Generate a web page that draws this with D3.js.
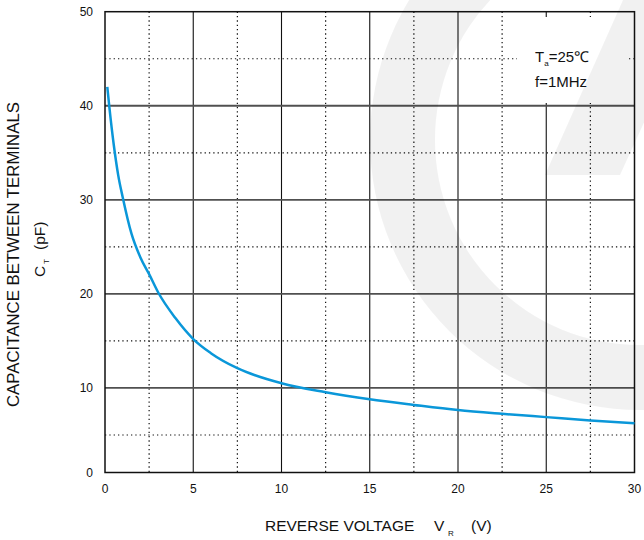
<!DOCTYPE html>
<html><head><meta charset="utf-8">
<script src="https://cdn.jsdelivr.net/npm/d3@7"></script>
<style>body{margin:0;background:#fff} svg{display:block} text{font-family:"Liberation Sans",Arial,sans-serif;fill:#111}</style>
</head><body><svg id="c" width="644" height="540"></svg>
<script>
const voltage = [0.13,0.25,0.5,0.75,1,1.5,2,2.5,3,4,5,6,7.5,10,12.5,15,17.5,20,22.5,25,27.5,30];
const capacitance = [42.0,39.8,35.8,32.6,30.3,26.4,23.9,22.1,20.2,17.4,15.2,13.7,12.1,10.5,9.55,8.8,8.2,7.65,7.25,6.9,6.55,6.25];
const xTicks = [0,5,10,15,20,25,30];
const yTicks = [0,10,20,30,40,50];
const xMinor = [2.5,7.5,12.5,17.5,22.5,27.5];
const yMinor = [5,15,25,35,45];

const svg = d3.select('#c');
const x = d3.scaleLinear().domain([0,30]).range([105,634.5]);
const y = d3.scaleLinear().domain([0,5,50]).range([472.5,435,11.7]);
const [x0,x1] = x.range();
const y0 = y(0), y1 = y(50);

// minor dotted grid
svg.selectAll('.vmin').data(xMinor).join('line')
  .attr('x1',d=>x(d)).attr('x2',d=>x(d)).attr('y1',y1).attr('y2',y0)
  .attr('stroke','#111').attr('stroke-width',1.2).attr('stroke-dasharray','1.3,3.03');
svg.selectAll('.hmin').data(yMinor).join('line')
  .attr('y1',d=>y(d)).attr('y2',d=>y(d)).attr('x1',x0).attr('x2',x1)
  .attr('stroke','#111').attr('stroke-width',1.2).attr('stroke-dasharray','1.3,3.03');
// major grid
svg.selectAll('.vmaj').data(xTicks.slice(1,-1)).join('line')
  .attr('x1',d=>x(d)).attr('x2',d=>x(d)).attr('y1',y1).attr('y2',y0)
  .attr('stroke','#111').attr('stroke-width',1.1);
svg.selectAll('.hmaj').data(yTicks.slice(1,-1)).join('line')
  .attr('y1',d=>y(d)).attr('y2',d=>y(d)).attr('x1',x0).attr('x2',x1)
  .attr('stroke','#505050').attr('stroke-width',1.8);

// legend white box
svg.append('rect').attr('x',517).attr('y',17).attr('width',112).attr('height',86).attr('fill','#fff');

// frame
svg.append('rect').attr('x',x0).attr('y',y1).attr('width',x1-x0).attr('height',y0-y1)
  .attr('fill','none').attr('stroke','#111').attr('stroke-width',1.5);

// curve
const line = d3.line().x(d=>x(d[0])).y(d=>y(d[1])).curve(d3.curveMonotoneX);
svg.append('path').datum(voltage.map((v,i)=>[v,capacitance[i]]))
  .attr('d',line).attr('fill','none').attr('stroke','#0a97d9').attr('stroke-width',2.5);

// tick labels
svg.selectAll('.yl').data(yTicks).join('text')
  .attr('x',93).attr('y',d=>y(d)).attr('dy','0.36em').attr('text-anchor','end')
  .style('font-size','12px').text(d=>d);
svg.selectAll('.xl').data(xTicks).join('text')
  .attr('x',d=>x(d)).attr('y',493).attr('text-anchor','middle')
  .style('font-size','12px').text(d=>d);

// legend text
const t1 = svg.append('text').attr('x',535).attr('y',62).style('font-size','15px');
t1.append('tspan').text('T');
t1.append('tspan').attr('dy',4).style('font-size','8px').text('a');
t1.append('tspan').attr('dy',-4).text('=25℃');
svg.append('text').attr('x',535).attr('y',87).style('font-size','15px').text('f=1MHz');

// axis titles
svg.append('text').attr('x',265).attr('y',531).style('font-size','15.5px').text('REVERSE VOLTAGE');
svg.append('text').attr('x',434).attr('y',531).style('font-size','15.5px').text('V');
svg.append('text').attr('x',448).attr('y',536).style('font-size','8px').text('R');
svg.append('text').attr('x',471).attr('y',531).style('font-size','15.5px').text('(V)');

svg.append('text').attr('transform','translate(18.5,407) rotate(-90)')
  .style('font-size','16.8px').text('CAPACITANCE BETWEEN TERMINALS');
svg.append('text').attr('transform','translate(45,277) rotate(-90)').style('font-size','15.5px').text('C');
svg.append('text').attr('transform','translate(48.5,264) rotate(-90)').style('font-size','8px').text('T');
svg.append('text').attr('transform','translate(45,250) rotate(-90)').style('font-size','15.5px').text('(pF)');

// watermark (light overlay)
const wm = svg.append('g').attr('fill','#000').attr('fill-opacity',0.055).style('pointer-events','none');
wm.append('path').attr('transform','translate(640,140)')
  .attr('d', d3.arc().innerRadius(205).outerRadius(270).startAngle(0).endAngle(2*Math.PI)());
wm.append('path').attr('d','M623,0 L700,0 L620,175 L545,175 Z');
</script></body></html>
